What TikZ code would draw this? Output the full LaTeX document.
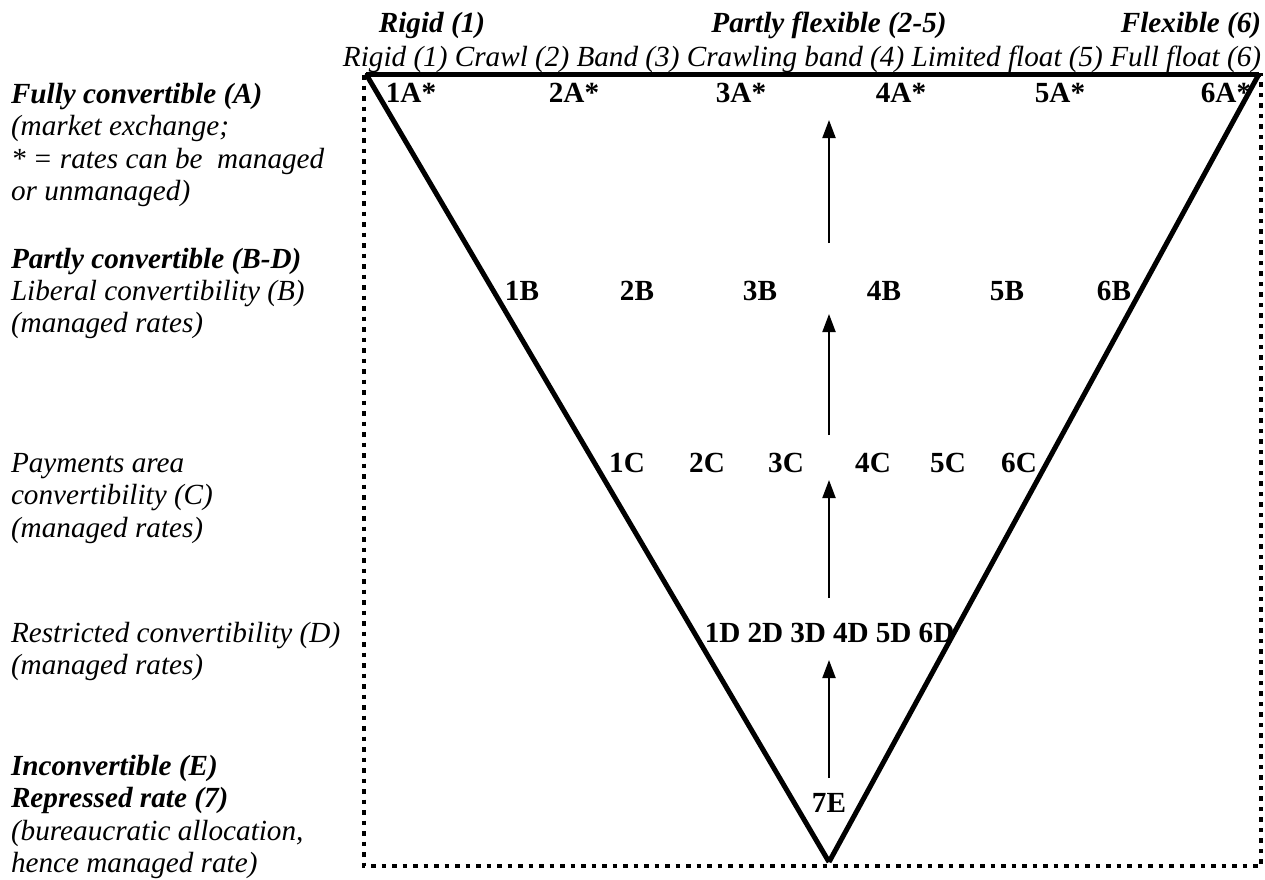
\documentclass[tikz,border=0pt]{standalone}
\usepackage{fontspec}
\setmainfont{Liberation Serif}
\usetikzlibrary{arrows.meta}
\newcommand{\myfs}{\fontsize{29.2}{32.5}\selectfont}
\begin{document}
\begin{tikzpicture}[x=1pt,y=-1pt,
  every node/.style={inner sep=0pt, outer sep=0pt},
  lbl/.style={font=\myfs\bfseries, anchor=base},
  side/.style={anchor=base west, font=\myfs\itshape},
  sidebf/.style={anchor=base west, font=\myfs\bfseries\itshape},
  headbf/.style={anchor=base, font=\myfs\bfseries\itshape},
  headit/.style={anchor=base, font=\myfs\itshape},
  tri/.style={line width=5pt},
  up/.style={line width=2pt, -{Triangle[width=13pt,length=18pt]}},
  frame/.style={line width=4.5pt, dash pattern=on 4.5pt off 6pt}]
\useasboundingbox (0,0) rectangle (1265,879);
% frame
\coordinate (F1) at (364,75);
\coordinate (F2) at (1261,866);
\draw[frame] (F1) rectangle (F2);
% triangle
\coordinate (TL) at (366,74);
\coordinate (TR) at (1259,74);
\coordinate (BV) at (829,862);
\draw[tri] (TL) -- (TR);
\draw[tri] (TL) -- (BV);
\draw[tri] (TR) -- (BV);
% headers
\node[headbf] (h1) at (432,32) {Rigid (1)};
\node[headbf] (h2) at (829,32) {Partly flexible (2-5)};
\node[headbf] (h3) at (1191,32) {Flexible (6)};
\node[headit] (hs) at (802,66) {Rigid (1) Crawl (2) Band (3) Crawling band (4) Limited float (5) Full float (6)};
% row A
\node[lbl] (r1A) at (411,102) {1A*};
\node[lbl] (r2A) at (574,102) {2A*};
\node[lbl] (r3A) at (741,102) {3A*};
\node[lbl] (r4A) at (901,102) {4A*};
\node[lbl] (r5A) at (1060,102) {5A*};
\node[lbl] (r6A) at (1226,102) {6A*};
% row B
\node[lbl] (r1B) at (522,300) {1B};
\node[lbl] (r2B) at (637,300) {2B};
\node[lbl] (r3B) at (760,300) {3B};
\node[lbl] (r4B) at (884,300) {4B};
\node[lbl] (r5B) at (1007,300) {5B};
\node[lbl] (r6B) at (1114,300) {6B};
% row C
\node[lbl] (r1C) at (627,472) {1C};
\node[lbl] (r2C) at (707,472) {2C};
\node[lbl] (r3C) at (786,472) {3C};
\node[lbl] (r4C) at (873,472) {4C};
\node[lbl] (r5C) at (948,472) {5C};
\node[lbl] (r6C) at (1019,472) {6C};
% row D
\node[lbl] (r1D) at (722.6,642) {1D};
\node[lbl] (r2D) at (765.4,642) {2D};
\node[lbl] (r3D) at (808.2,642) {3D};
\node[lbl] (r4D) at (850.9,642) {4D};
\node[lbl] (r5D) at (893.7,642) {5D};
\node[lbl] (r6D) at (936.5,642) {6D};
% row E
\node[lbl] (r7E) at (829,812) {7E};
% arrows
\coordinate (a1s) at (829,243); \coordinate (a1e) at (829,120);
\coordinate (a2s) at (829,435); \coordinate (a2e) at (829,314);
\coordinate (a3s) at (829,598); \coordinate (a3e) at (829,480);
\coordinate (a4s) at (829,778); \coordinate (a4e) at (829,660);
\draw[up] (a1s) -- (a1e);
\draw[up] (a2s) -- (a2e);
\draw[up] (a3s) -- (a3e);
\draw[up] (a4s) -- (a4e);
% left side texts
\node[sidebf] (la1) at (11,103) {Fully convertible (A)};
\node[side] (la2) at (11,135.5) {(market exchange;};
\node[side] (la3) at (11,168) {* = rates can be\ \ managed};
\node[side] (la4) at (11,200.5) {or unmanaged)};
\node[sidebf] (lb1) at (11,268) {Partly convertible (B-D)};
\node[side] (lb2) at (11,300) {Liberal convertibility (B)};
\node[side] (lb3) at (11,332.5) {(managed rates)};
\node[side] (lc1) at (11,472) {Payments area};
\node[side] (lc2) at (11,504.5) {convertibility (C)};
\node[side] (lc3) at (11,537) {(managed rates)};
\node[side] (ld1) at (11,642) {Restricted convertibility (D)};
\node[side] (ld2) at (11,674.5) {(managed rates)};
\node[sidebf] (le1) at (11,775) {Inconvertible (E)};
\node[sidebf] (le2) at (11,807.5) {Repressed rate (7)};
\node[side] (le3) at (11,840) {(bureaucratic allocation,};
\node[side] (le4) at (11,872) {hence managed rate)};
\end{tikzpicture}
\end{document}
